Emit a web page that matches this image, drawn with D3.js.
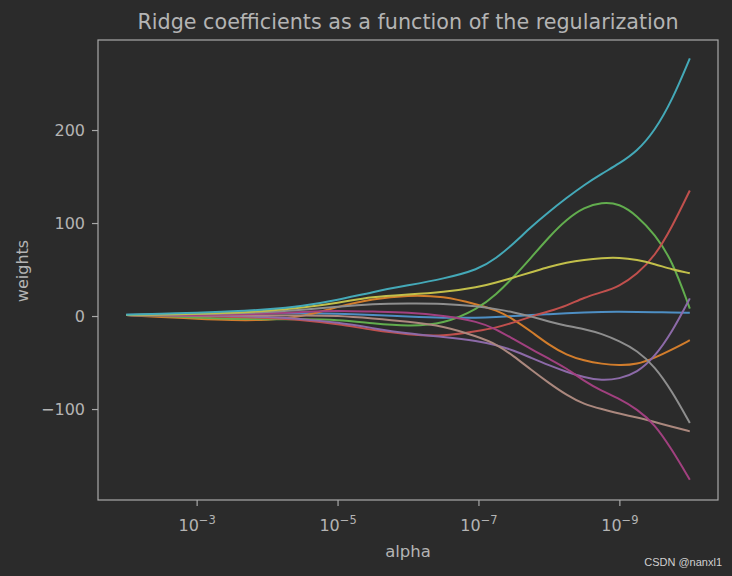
<!DOCTYPE html>
<html>
<head>
<meta charset="utf-8">
<script src="https://cdn.jsdelivr.net/npm/d3@7"></script>
<style>
  html, body { margin: 0; padding: 0; background: #2b2b2b; }
  svg { display: block; }
</style>
</head>
<body>
<svg id="chart" width="732" height="576"></svg>
<script>
// ---- data ----
const alphas = [1e-2, 3.16e-3, 1e-3, 3.16e-4, 1e-4, 3.16e-5, 1e-5, 3.16e-6, 1e-6, 3.16e-7, 1e-7,
                5.62e-8, 3.16e-8, 1.78e-8, 1e-8, 5.62e-9, 3.16e-9, 1.78e-9, 1e-9, 5.62e-10, 3.16e-10, 1.78e-10, 1e-10];

const w0 = [1.5, 1.5, 2, 2.5, 3, 3, 2.5, 1, -0.5, -2, -2, -1, 0, 1, 2, 3, 4, 4.5, 4.5, 4.5, 4, 4, 3.5];
const w1 = [1, -1, -3, -4.5, -4.5, -1, 10, 18.5, 22.5, 21.5, 12, 6.5, -3.5, -16.7, -31, -42, -48, -51.5, -53, -52, -45, -36, -26];
const w2 = [1, 0, -1.5, -3, -3.5, -3.5, -4, -8, -11, -9, 8, 23, 42, 63, 85, 104, 117, 122.5, 121, 108, 88, 60, 8];
const w3 = [1, 0.5, 0, -1, -2, -4, -8.5, -15, -20, -22, -16, -12.5, -7, -0.5, 5, 11, 20, 25.5, 32, 45, 64, 96, 135];
const w4 = [1, 0.8, 0.5, 0, -1, -3, -7, -13, -19, -22.5, -27, -31, -37, -45, -53, -60, -66, -69.5, -67.5, -61, -44, -17, 19];
const w5 = [1, 1, 1, 0.8, 0.5, 0.8, 0.5, -2.5, -6, -10.5, -22.5, -30, -43, -58, -72, -85, -95, -100, -105, -109, -114, -119, -124];
const w6 = [1, 1, 1, 1.5, 2.5, 4.5, 6, 4.7, 4, 0.5, -6, -14, -25, -35.5, -46, -56, -70, -80.5, -89, -100, -116, -144, -176];
const w7 = [1, 1.5, 2, 3, 4, 6.5, 10, 13, 13.6, 13.5, 10.5, 7.5, 4, -0.5, -6, -10.5, -14, -19, -27, -37, -54, -81, -115];
const w8 = [1, 1.5, 2.5, 3.5, 5.5, 9, 14, 21, 23, 25.5, 31, 36, 41.5, 47, 53, 57.5, 60.5, 62.5, 63, 60.5, 56, 50, 46];
const w9 = [1.5, 2.5, 3.5, 5, 7, 10.5, 17, 26, 33, 40, 50, 62, 78, 96, 112, 127, 141, 153, 164, 177, 199, 232, 277];

const series = [w0, w1, w2, w3, w4, w5, w6, w7, w8, w9];
const colors = ["#4e8fc4", "#d27d2c", "#62ad4e", "#c0504d", "#8c6aa8",
                "#ab887e", "#a1407f", "#8e8e8e", "#c2bf4a", "#44a9b8"];

const xTicks = [1e-3, 1e-5, 1e-7, 1e-9];
const xTickExp = ["\u22123", "\u22125", "\u22127", "\u22129"];
const yTicks = [-100, 0, 100, 200];

const titleText = "Ridge coefficients as a function of the regularization";
const xLabel = "alpha";
const yLabel = "weights";
const watermark = "CSDN @nanxl1";

// ---- layout ----
const W = 732, H = 576;
const mL = 98, mR = 718, mT = 40, mB = 500;
const fg = "#b4b4b4";
const font = "DejaVu Sans, sans-serif";

const svg = d3.select("#chart");
svg.append("rect").attr("width", W).attr("height", H).attr("fill", "#2b2b2b");

// x: log scale, reversed (large alpha on left), 5% margin in log space
const lmax = Math.log10(d3.max(alphas)), lmin = Math.log10(d3.min(alphas));
const lpad = (lmax - lmin) * 0.05;
const x = d3.scaleLog()
  .domain([Math.pow(10, lmax + lpad), Math.pow(10, lmin - lpad)])
  .range([mL, mR]);

const y = d3.scaleLinear().domain([-197.8, 296.8]).range([mB, mT]);

// lines
const line = d3.line()
  .x((d, i) => x(alphas[i]))
  .y(d => y(d))
  .curve(d3.curveBasis);

const g = svg.append("g");
series.forEach((s, k) => {
  g.append("path")
    .attr("d", line(s))
    .attr("fill", "none")
    .attr("stroke", colors[k])
    .attr("stroke-width", 2)
    .attr("stroke-linejoin", "round")
    .attr("stroke-linecap", "butt");
});

// frame
svg.append("rect")
  .attr("x", mL).attr("y", mT)
  .attr("width", mR - mL).attr("height", mB - mT)
  .attr("fill", "none").attr("stroke", "#a8a8a8").attr("stroke-width", 1.2);

// x axis
const xAxis = d3.axisBottom(x).tickValues(xTicks).tickSize(6).tickPadding(6).tickFormat("");
const gx = svg.append("g").attr("transform", `translate(0,${mB})`).call(xAxis);
gx.select(".domain").remove();
gx.selectAll(".tick line").attr("stroke", "#a8a8a8").attr("stroke-width", 1.2);
gx.selectAll(".tick").each(function(d, i) {
  const t = d3.select(this).append("text")
    .attr("y", 31).attr("fill", fg)
    .attr("font-family", font).attr("font-size", 16)
    .attr("text-anchor", "middle");
  t.append("tspan").text("10");
  t.append("tspan").attr("dy", -7).attr("font-size", 11.5).text(xTickExp[i]);
});

// y axis
const yAxis = d3.axisLeft(y).tickValues(yTicks).tickSize(6).tickPadding(7)
  .tickFormat(d => d < 0 ? "\u2212" + Math.abs(d) : String(d));
const gy = svg.append("g").attr("transform", `translate(${mL},0)`).call(yAxis);
gy.select(".domain").remove();
gy.selectAll(".tick line").attr("stroke", "#a8a8a8").attr("stroke-width", 1.2);
gy.selectAll(".tick text").attr("fill", fg).attr("font-family", font).attr("font-size", 16);

// title and labels
svg.append("text").attr("x", (mL + mR) / 2).attr("y", 29)
  .attr("text-anchor", "middle").attr("fill", fg)
  .attr("font-family", font).attr("font-size", 20.7).text(titleText);

svg.append("text").attr("x", (mL + mR) / 2).attr("y", 557)
  .attr("text-anchor", "middle").attr("fill", fg)
  .attr("font-family", font).attr("font-size", 16.5).text(xLabel);

svg.append("text").attr("transform", `translate(28,${(mT + mB) / 2 + 1}) rotate(-90)`)
  .attr("text-anchor", "middle").attr("fill", fg)
  .attr("font-family", font).attr("font-size", 16).text(yLabel);

svg.append("text").attr("x", 722).attr("y", 566)
  .attr("text-anchor", "end").attr("fill", "#d0d0d0")
  .attr("font-family", "Liberation Sans, Arial, sans-serif").attr("font-size", 11).text(watermark);
</script>
</body>
</html>
